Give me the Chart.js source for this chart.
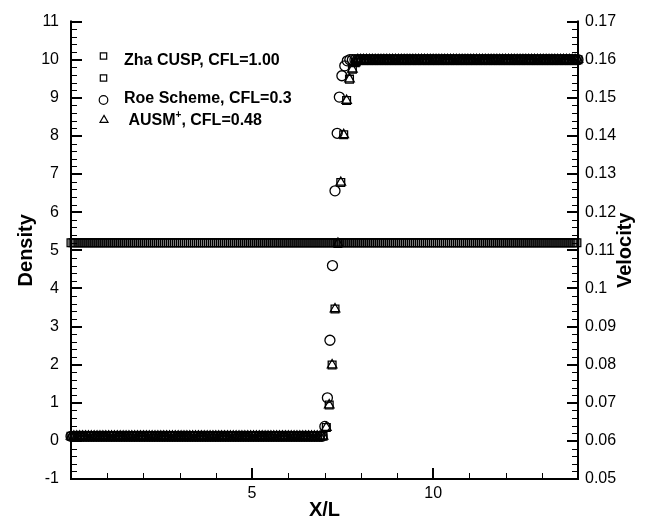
<!DOCTYPE html>
<html>
<head>
<meta charset="utf-8">
<script src="https://cdn.jsdelivr.net/npm/chart.js@4.4.1/dist/chart.umd.min.js"></script>
<style>
  html, body { margin: 0; padding: 0; background: #fff; }
  #wrap { width: 652px; height: 525px; }
</style>
</head>
<body>
<div id="wrap"><canvas id="c" width="652" height="525"></canvas></div>
<script>
// ---- domain and axis ticks ----
const xMin = 0, xMax = 14;
const xTickValues = [0, 5, 10];
const densityTickValues = [-1, 0, 1, 2, 3, 4, 5, 6, 7, 8, 9, 10, 11];
const velocityTickValues = [0.05, 0.06, 0.07, 0.08, 0.09, 0.1, 0.11, 0.12, 0.13, 0.14, 0.15, 0.16, 0.17];

// ---- mesh spacings and uniform states on either side of the shock ----
const cuspStep = 0.08;
const roeStep = 0.07;
const velocityStep = 0.055;
const densityLeft = 0.12;
const densityRight = 10;
const velocityLevel = 0.112;

// ---- samples through the shock ----
const cuspX       = [7.05, 7.13, 7.21, 7.29, 7.37, 7.45, 7.53, 7.61, 7.69, 7.77, 7.85];
const cuspDensity = [0.35, 0.94, 1.99, 3.46, 5.18, 6.78, 8.03, 8.93, 9.49, 9.75, 9.92];
const ausmX       = [7.05, 7.13, 7.21, 7.29, 7.37, 7.45, 7.53, 7.61, 7.69, 7.77, 7.85];
const ausmDensity = [0.35, 0.94, 1.99, 3.46, 5.18, 6.78, 8.03, 8.93, 9.49, 9.75, 9.92];
const roeX        = [7.01, 7.08, 7.15, 7.22, 7.29, 7.35, 7.41, 7.48, 7.56, 7.63];
const roeDensity  = [0.38, 1.13, 2.64, 4.60, 6.56, 8.07, 9.02, 9.58, 9.84, 9.97];

const legendLabels = ['Zha CUSP, CFL=1.00', '', 'Roe Scheme, CFL=0.3', ' AUSM|+|, CFL=0.48'];

// Uniform left state on the mesh, the shock samples, then the uniform right state.
function profile(step, shockX, shockVals, left, right) {
  const pts = [];
  const first = shockX[0], last = shockX[shockX.length - 1];
  for (let i = 0; i * step < first - 0.03; i++) pts.push({ x: i * step, y: left });
  shockX.forEach((x, i) => pts.push({ x, y: shockVals[i] }));
  for (let i = Math.ceil((last + 0.03) / step); i * step <= xMax + 1e-9; i++) pts.push({ x: i * step, y: right });
  return pts;
}
function flat(step, level) {
  const pts = [];
  for (let i = 0; i * step <= xMax + 1e-9; i++) pts.push({ x: i * step, y: level });
  return pts;
}

const FONT = '"Liberation Sans", Arial, Helvetica, sans-serif';

function markerSet(data, axis, style, r) {
  return {
    data, yAxisID: axis, showLine: false, clip: false,
    pointStyle: style, pointRadius: r, pointHoverRadius: r,
    pointBorderWidth: 1.3, borderColor: '#000',
    pointBorderColor: '#000', pointBackgroundColor: 'rgba(0,0,0,0)', backgroundColor: 'rgba(0,0,0,0)'
  };
}

// Inward tick marks, axis lines and the right-hand title.
const axesPlugin = {
  id: 'axesPlugin',
  beforeDatasetsDraw(chart) {
    const { ctx, chartArea: a, scales } = chart;
    const y = scales.y, y1 = scales.y1, x = scales.x;
    ctx.save();
    ctx.strokeStyle = '#000';
    ctx.lineCap = 'butt';
    const hline = (px, x0, x1, w) => {
      ctx.lineWidth = w;
      const yy = w % 2 ? Math.round(px) + 0.5 : Math.round(px);
      ctx.beginPath(); ctx.moveTo(x0, yy); ctx.lineTo(x1, yy); ctx.stroke();
    };
    const vline = (px, y0, y1v, w) => {
      ctx.lineWidth = w;
      const xx = w % 2 ? Math.round(px) + 0.5 : Math.round(px);
      ctx.beginPath(); ctx.moveTo(xx, y0); ctx.lineTo(xx, y1v); ctx.stroke();
    };
    // left density axis: minor every 0.2
    for (let k = 0; k <= 60; k++) {
      const v = -1 + k * 0.2, major = k % 5 === 0;
      hline(y.getPixelForValue(v), a.left, a.left + (major ? 11 : 6), major ? 2 : 1);
    }
    // right velocity axis: minor every 0.002
    for (let k = 0; k <= 60; k++) {
      const v = 0.05 + k * 0.002, major = k % 5 === 0;
      hline(y1.getPixelForValue(v), a.right - (major ? 11 : 6), a.right, major ? 2 : 1);
    }
    // bottom x axis: minor every 1
    for (let k = 0; k <= 14; k++) {
      const major = k % 5 === 0;
      vline(x.getPixelForValue(k), a.bottom - (major ? 11 : 6), a.bottom, major ? 2 : 1);
    }
    // axis lines
    ctx.lineWidth = 2;
    ctx.beginPath();
    ctx.moveTo(Math.round(a.left), a.top - 1);
    ctx.lineTo(Math.round(a.left), Math.round(a.bottom));
    ctx.lineTo(Math.round(a.right), Math.round(a.bottom));
    ctx.lineTo(Math.round(a.right), a.top - 1);
    ctx.stroke();
    ctx.restore();
  },
  afterDraw(chart) {
    const { ctx, chartArea: a } = chart;
    ctx.save();
    ctx.fillStyle = '#000';
    ctx.font = 'bold 20px ' + FONT;
    ctx.textAlign = 'center';
    ctx.textBaseline = 'middle';
    ctx.translate(625, (a.top + a.bottom) / 2);
    ctx.rotate(-Math.PI / 2);
    ctx.fillText('Velocity', 0, 0);
    ctx.restore();
  }
};

// Legend block in the upper-left of the plot.
const legendPlugin = {
  id: 'legendPlugin',
  afterDraw(chart) {
    const { ctx, chartArea: a } = chart;
    const styles = ['rect', 'rect', 'circle', 'triangle'];
    const markY = [55.5, 77.5, 100, 120];
    const textY = [61, 78, 99, 121];
    const mx = a.left + 32, tx = a.left + 53;
    ctx.save();
    ctx.strokeStyle = '#000';
    ctx.fillStyle = '#000';
    ctx.lineWidth = 1.2;
    styles.forEach((s, i) => {
      const yy = markY[i];
      ctx.beginPath();
      if (s === 'rect') { const h = 3.2; ctx.rect(mx - h + 0.5, yy - h + 0.5, 2 * h, 2 * h); }
      else if (s === 'circle') ctx.arc(mx + 0.5, yy, 4.3, 0, Math.PI * 2);
      else {
        const r = 4.6;
        ctx.moveTo(mx + 1, yy - r);
        ctx.lineTo(mx + 1 + r * Math.sin(2 * Math.PI / 3), yy - r * Math.cos(2 * Math.PI / 3));
        ctx.lineTo(mx + 1 + r * Math.sin(4 * Math.PI / 3), yy - r * Math.cos(4 * Math.PI / 3));
        ctx.closePath();
      }
      ctx.stroke();
      const label = legendLabels[i];
      if (!label) return;
      ctx.textAlign = 'left';
      ctx.textBaseline = 'middle';
      const parts = label.split('|');
      let x = tx;
      parts.forEach((p, j) => {
        if (j === 1) {
          ctx.font = 'bold 10px ' + FONT;
          ctx.fillText(p, x, textY[i] - 6);
        } else {
          ctx.font = 'bold 16px ' + FONT;
          ctx.fillText(p, x, textY[i]);
        }
        x += ctx.measureText(p).width;
      });
    });
    ctx.restore();
  }
};

const tickFont = { family: FONT, size: 16 };

new Chart(document.getElementById('c'), {
  type: 'scatter',
  data: {
    datasets: [
      markerSet(profile(cuspStep, cuspX, cuspDensity, densityLeft, densityRight), 'y', 'rect', 5.5),
      markerSet(flat(velocityStep, velocityLevel), 'y1', 'rect', 5.5),
      markerSet(profile(roeStep, roeX, roeDensity, densityLeft, densityRight), 'y', 'circle', 5),
      markerSet(profile(cuspStep, ausmX, ausmDensity, densityLeft, densityRight), 'y', 'triangle', 5.5)
    ]
  },
  options: {
    responsive: false,
    animation: false,
    devicePixelRatio: 1,
    events: [],
    layout: { padding: { top: 15, left: 0, right: 0, bottom: 0 } },
    plugins: { legend: { display: false }, tooltip: { enabled: false } },
    scales: {
      x: {
        type: 'linear', position: 'bottom', min: xMin, max: xMax,
        afterBuildTicks: s => { s.ticks = xTickValues.map(v => ({ value: v })); },
        afterFit: s => { s.height = 46; },
        grid: { display: false, drawTicks: false }, border: { display: false },
        ticks: { color: '#000', font: tickFont, padding: 5, maxRotation: 0,
                 callback: v => (v === 0 ? '' : String(v)) },
        title: { display: true, text: 'X/L', color: '#000',
                 font: { family: FONT, size: 20, weight: 'bold' }, padding: { top: 0, bottom: 3 } }
      },
      y: {
        type: 'linear', position: 'left', min: -1, max: 11,
        afterBuildTicks: s => { s.ticks = densityTickValues.map(v => ({ value: v })); },
        afterFit: s => { s.width = 71; },
        grid: { display: false, drawTicks: false }, border: { display: false },
        ticks: { color: '#000', font: tickFont, padding: 12, callback: v => String(v) },
        title: { display: true, text: 'Density', color: '#000',
                 font: { family: FONT, size: 20, weight: 'bold' }, padding: { top: 14, bottom: 0 } }
      },
      y1: {
        type: 'linear', position: 'right', min: 0.05, max: 0.17,
        afterBuildTicks: s => { s.ticks = velocityTickValues.map(v => ({ value: v })); },
        afterFit: s => { s.width = 74; },
        grid: { display: false, drawTicks: false }, border: { display: false },
        ticks: { color: '#000', font: tickFont, padding: 7,
                 callback: v => String(parseFloat(Number(v).toFixed(3))) }
      }
    }
  },
  plugins: [axesPlugin, legendPlugin]
});
</script>
</body>
</html>
